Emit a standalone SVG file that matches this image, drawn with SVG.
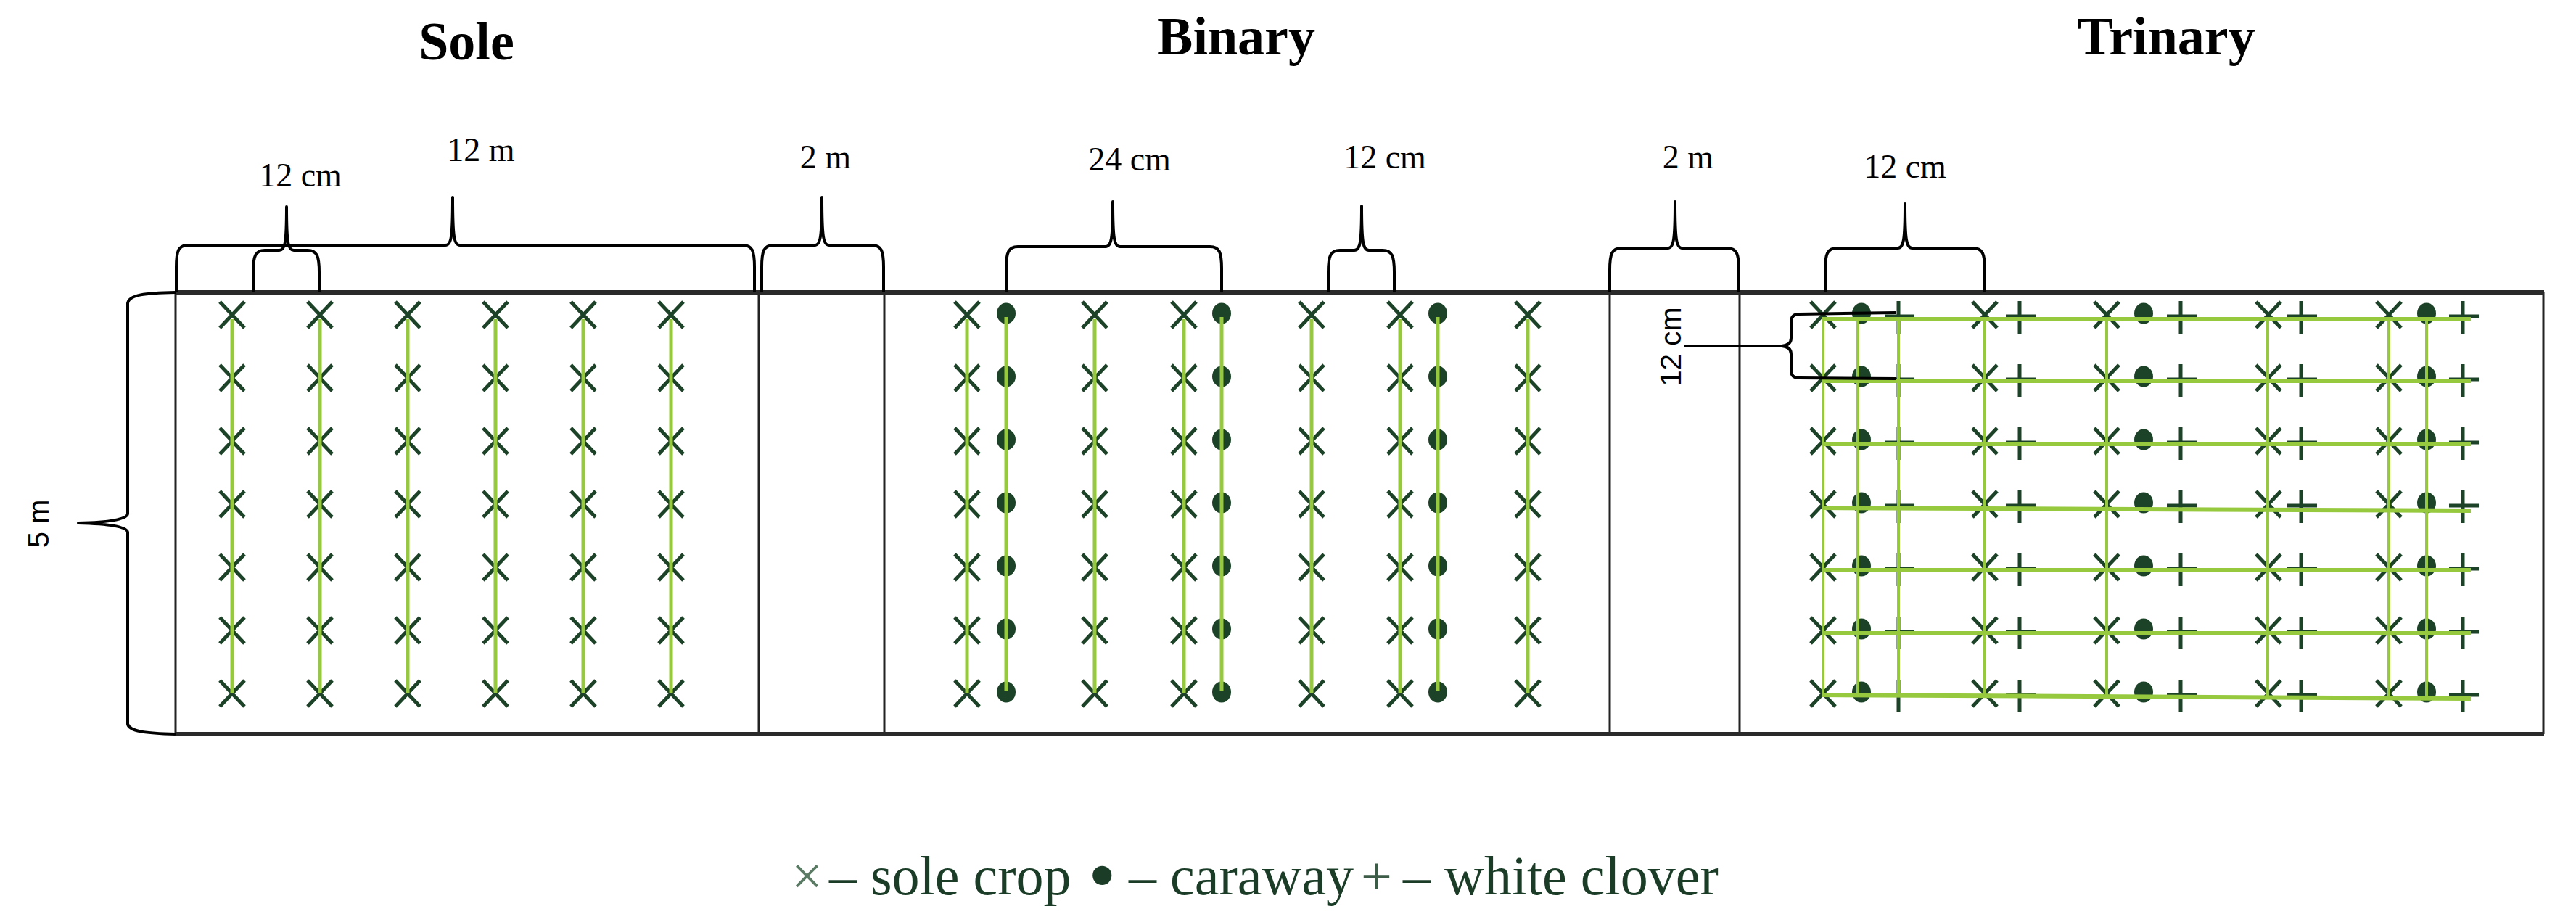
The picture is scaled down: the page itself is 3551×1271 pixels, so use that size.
<svg xmlns="http://www.w3.org/2000/svg" xmlns:xlink="http://www.w3.org/1999/xlink" width="3551" height="1271" viewBox="0 0 3551 1271">
<style>
.title{font-family:"Liberation Serif",serif;font-weight:bold;font-size:74px;fill:#000;text-anchor:middle}
.dim{font-family:"Liberation Serif",serif;font-size:46px;fill:#000;text-anchor:middle}
.vdim{font-family:"Liberation Sans",sans-serif;font-size:40px;fill:#000;text-anchor:middle}
.legend{font-family:"Liberation Serif",serif;font-size:76px;fill:#1b3d28}
.brace{fill:none;stroke:#000;stroke-width:4;stroke-linejoin:round}
.mk{fill:none;stroke:#1c4228;stroke-width:5}
.gl{stroke:#96c93d;stroke-width:5;fill:none}
.glh{stroke:#96c93d;stroke-width:6;fill:none}
.glv{stroke:#96c93d;stroke-width:4;fill:none}
.edge{fill:none;stroke:#222;stroke-width:3}
.edgeb{fill:none;stroke:#2a2a2a;stroke-width:6}
</style>
<defs>
<path id="xm" class="mk" d="M-17,-18L17,18M17,-18L-17,18"/>
<ellipse id="dm" cx="0" cy="-2" rx="13" ry="14.5" fill="#1c4228"/>
<path id="pm" class="mk" d="M0,-19V26M-19,2H22"/>
<g id="xcol"><use xlink:href="#xm" y="434"/><use xlink:href="#xm" y="521"/><use xlink:href="#xm" y="608"/><use xlink:href="#xm" y="695"/><use xlink:href="#xm" y="782"/><use xlink:href="#xm" y="869"/><use xlink:href="#xm" y="956"/></g>
<g id="dcol"><use xlink:href="#dm" y="434"/><use xlink:href="#dm" y="521"/><use xlink:href="#dm" y="608"/><use xlink:href="#dm" y="695"/><use xlink:href="#dm" y="782"/><use xlink:href="#dm" y="869"/><use xlink:href="#dm" y="956"/></g>
<g id="pcol"><use xlink:href="#pm" y="434"/><use xlink:href="#pm" y="521"/><use xlink:href="#pm" y="608"/><use xlink:href="#pm" y="695"/><use xlink:href="#pm" y="782"/><use xlink:href="#pm" y="869"/><use xlink:href="#pm" y="956"/></g>
</defs>
<rect width="3551" height="1271" fill="#fff"/>

<g id="titles">
<text class="title" x="643" y="82">Sole</text>
<text class="title" x="1704" y="75">Binary</text>
<text class="title" x="2986" y="75">Trinary</text>
</g>

<g id="field">
<path class="edge" d="M242,403V1012M1046,403V1012M1219,403V1012M2219,403V1012M2398,403V1012M3506,403V1012"/>
<path class="edgeb" d="M242,403H3507M242,1012H3507"/>
</g>

<g id="sole">
<use xlink:href="#xcol" x="320"/><use xlink:href="#xcol" x="441"/><use xlink:href="#xcol" x="562"/><use xlink:href="#xcol" x="683"/><use xlink:href="#xcol" x="804"/><use xlink:href="#xcol" x="925"/>
<path class="gl" d="M320,440V956M441,440V956M562,440V956M683,440V956M804,440V956M925,440V956"/>
</g>

<g id="binary">
<use xlink:href="#xcol" x="1333"/><use xlink:href="#xcol" x="1509"/><use xlink:href="#xcol" x="1632"/><use xlink:href="#xcol" x="1808"/><use xlink:href="#xcol" x="1930"/><use xlink:href="#xcol" x="2106"/>
<use xlink:href="#dcol" x="1387"/><use xlink:href="#dcol" x="1684"/><use xlink:href="#dcol" x="1982"/>
<path class="gl" d="M1333,440V956M1509,440V956M1632,440V956M1808,440V956M1930,440V956M2106,440V956M1387,437V953M1684,437V953M1982,437V953"/>
</g>

<g id="trinary">
<use xlink:href="#xcol" x="2513"/><use xlink:href="#xcol" x="2736"/><use xlink:href="#xcol" x="2904"/><use xlink:href="#xcol" x="3127"/><use xlink:href="#xcol" x="3293"/>
<use xlink:href="#dcol" x="2566"/><use xlink:href="#dcol" x="2955"/><use xlink:href="#dcol" x="3345"/>
<use xlink:href="#pcol" x="2617"/><use xlink:href="#pcol" x="2784"/><use xlink:href="#pcol" x="3006"/><use xlink:href="#pcol" x="3172"/><use xlink:href="#pcol" x="3395"/>
<path class="glv" d="M2513,437V961M2561,437V961M2617,437V961M2736,437V961M2904,437V961M3126,437V961M3293,437V961M3345,437V961"/>
<path class="glh" d="M2511,440L3406,440M2511,525L3406,525M2511,612L3406,612M2511,700L3406,704M2511,786L3406,786M2511,873L3406,873M2511,958L3406,963"/>
</g>

<g id="connectors">
<g id="dim-5m">
<path class="brace" d="M242,403C200,404 178,406 176,418L176,708C176,716 150,720 108,721C150,722 176,726 176,734L176,998C178,1008 200,1011 242,1012"/>
<text class="vdim" transform="translate(67,722) rotate(-90)">5 m</text>
</g>
<g id="dim-sole-12m">
<path class="brace" d="M243,403L243,368C243,346 246,338 259,338L614,338C622,338 624,328 624,272C624,328 626,338 634,338L1024,338C1037,338 1040,346 1040,368L1040,403"/>
<text class="dim" x="663" y="222">12 m</text>
</g>
<g id="dim-sole-12cm">
<path class="brace" d="M349,403L349,375C349,353 352,345 365,345L385,345C393,345 395,335 395,285C395,335 397,345 405,345L424,345C437,345 440,353 440,375L440,403"/>
<text class="dim" x="414" y="257">12 cm</text>
</g>
<g id="dim-gap1-2m">
<path class="brace" d="M1050,403L1050,368C1050,346 1053,338 1066,338L1123,338C1131,338 1133,328 1133,272C1133,328 1135,338 1143,338L1202,338C1215,338 1218,346 1218,368L1218,403"/>
<text class="dim" x="1138" y="232">2 m</text>
</g>
<g id="dim-binary-24cm">
<path class="brace" d="M1387,403L1387,370C1387,348 1390,340 1403,340L1524,340C1532,340 1534,330 1534,278C1534,330 1536,340 1544,340L1668,340C1681,340 1684,348 1684,370L1684,403"/>
<text class="dim" x="1557" y="235">24 cm</text>
</g>
<g id="dim-binary-12cm">
<path class="brace" d="M1831,403L1831,375C1831,353 1834,345 1847,345L1867,345C1875,345 1877,335 1877,284C1877,335 1879,345 1887,345L1906,345C1919,345 1922,353 1922,375L1922,403"/>
<text class="dim" x="1909" y="232">12 cm</text>
</g>
<g id="dim-gap2-2m">
<path class="brace" d="M2219,403L2219,372C2219,350 2222,342 2235,342L2299,342C2307,342 2309,332 2309,278C2309,332 2311,342 2319,342L2381,342C2394,342 2397,350 2397,372L2397,403"/>
<text class="dim" x="2327" y="232">2 m</text>
</g>
<g id="dim-trinary-12cm">
<path class="brace" d="M2516,403L2516,372C2516,350 2519,342 2532,342L2616,342C2624,342 2626,332 2626,281C2626,332 2628,342 2636,342L2720,342C2733,342 2736,350 2736,372L2736,403"/>
<text class="dim" x="2626" y="245">12 cm</text>
</g>
<g id="dim-trinary-row-12cm">
<path class="brace" d="M2613,431L2480,433Q2469,433 2469,444L2469,466Q2469,476 2456,477L2322,477M2456,477Q2469,478 2469,488L2469,511Q2469,521 2480,521L2613,522"/>
<text class="vdim" transform="translate(2317,478) rotate(-90)">12 cm</text>
</g>
</g>

<g id="legend">
<text class="legend" y="1233"><tspan x="1091" fill="#5a7a64">×</tspan><tspan x="1143">– sole crop</tspan><tspan x="1500" y="1243" font-size="110">•</tspan><tspan x="1556" y="1233">– caraway</tspan><tspan x="1876" fill="#3d5c48">+</tspan><tspan x="1934">– white clover</tspan></text>
</g>
</svg>
